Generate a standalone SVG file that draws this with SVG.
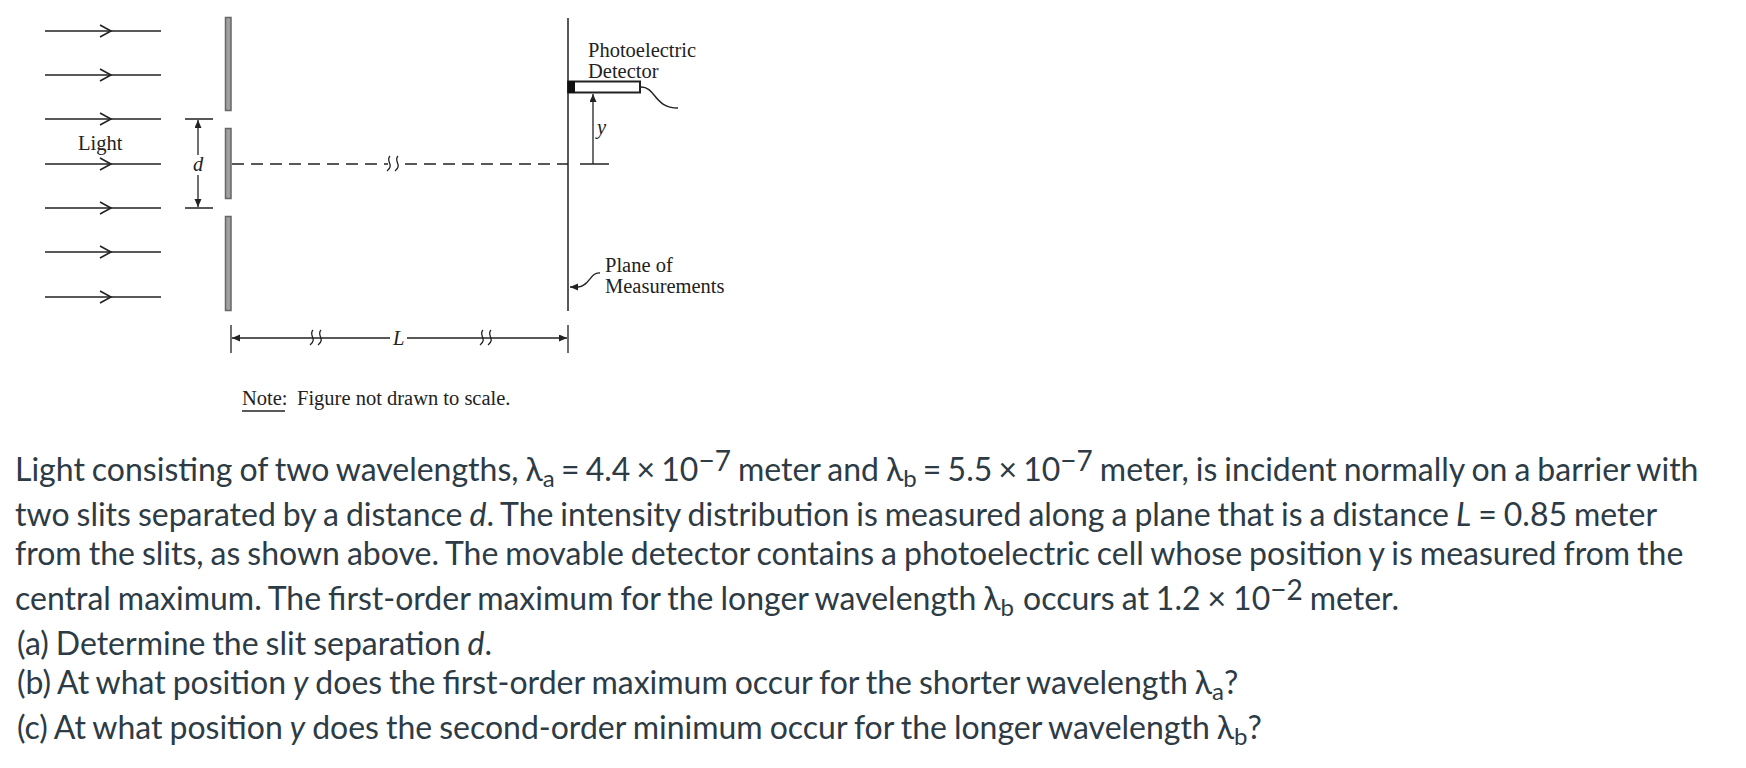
<svg xmlns="http://www.w3.org/2000/svg" width="1746" height="768" viewBox="0 0 1746 768">
<style>
.ln{stroke:#222;stroke-width:1.5;fill:none}
.th{stroke:#222;stroke-width:1.3;fill:none}
.ah{stroke:#222;stroke-width:1.6;fill:none}
.bar{fill:#a0a0a0;stroke:#666;stroke-width:1.5}
.fig{font-family:"Liberation Serif",serif;font-size:20.500px;fill:#222}
.it{font-style:italic}
.q{font-family:Lato,sans-serif;font-size:32px;fill:#2d3b45;word-spacing:-1.200px}
.m{word-spacing:-2px}
.s{font-size:24px}
.u{font-size:28px}
</style>
<defs>
<marker id="tip" markerWidth="9" markerHeight="8" refX="8" refY="3.500" orient="auto-start-reverse" markerUnits="userSpaceOnUse"><path d="M0 0L8 3.500L0 7Z" fill="#222"/></marker>
<g id="ray"><path class="ln" d="M45 0H161"/><path class="ah" d="M100-6L111 0L100 6"/></g>
<path id="sq" class="th" d="M-3 -8C-8 -3 2 1 -6 7M5 -8C0 -3 10 1 2 7"/>
</defs>
<rect width="1746" height="768" fill="#fff"/>
<g id="light-rays">
<use href="#ray" y="31"/><use href="#ray" y="75"/><use href="#ray" y="119"/><use href="#ray" y="164"/><use href="#ray" y="208"/><use href="#ray" y="252"/><use href="#ray" y="297"/>
<text class="fig" x="78" y="150">Light</text>
</g>
<g id="barrier">
<rect class="bar" x="225.500" y="17.500" width="5.500" height="93"/>
<rect class="bar" x="225.500" y="128.500" width="5.500" height="70"/>
<rect class="bar" x="225.500" y="216.500" width="5.500" height="94"/>
</g>
<g id="d-dimension">
<path class="th" d="M185 119H213M185 208H213"/>
<path class="th" d="M198 155V120" marker-end="url(#tip)"/>
<path class="th" d="M198 175V207" marker-end="url(#tip)"/>
<text class="fig it" x="193" y="171">d</text>
</g>
<g id="connectors">
<path class="ln" d="M232 164H388" stroke-dasharray="12 7"/>
<path class="ln" d="M405 164H568" stroke-dasharray="12 7"/>
<use href="#sq" x="393" y="164"/>
<path class="th" d="M593 164V94" marker-end="url(#tip)"/>
<path class="ln" d="M580 164H609"/>
<path class="th" d="M600 273C590 272 590 286 578 287L570 287" marker-end="url(#tip)"/>
<path class="th" d="M231 325V353M568 325V353"/>
<path class="th" d="M390 338H232" marker-end="url(#tip)"/>
<path class="th" d="M407 338H567" marker-end="url(#tip)"/>
<use href="#sq" x="316" y="338"/>
<use href="#sq" x="486" y="338"/>
<text class="fig it" x="393" y="345">L</text>
</g>
<g id="plane">
<path class="ln" d="M568 18V311"/>
<text class="fig" x="605" y="272">Plane of</text>
<text class="fig" x="605" y="293">Measurements</text>
</g>
<g id="detector">
<rect x="568" y="81.500" width="72" height="11" fill="#fff" stroke="#222" stroke-width="2"/>
<rect x="568" y="81" width="7" height="12" fill="#111"/>
<path class="ln" d="M641 87C656 87 654 108 678 108"/>
<text class="fig" x="588" y="57">Photoelectric</text>
<text class="fig" x="588" y="78">Detector</text>
<text class="fig it" x="597" y="134">y</text>
</g>
<g id="note">
<text class="fig" x="242" y="405">Note:</text>
<path class="th" d="M242 411H285"/>
<text class="fig" x="297" y="405">Figure not drawn to scale.</text>
</g>
<g id="question">
<text class="q" x="15" y="481">Light consisting of two wavelengths, λ<tspan class="s" dy="6">a</tspan><tspan class="m" dy="-6"> = 4.4 × 10</tspan><tspan class="u" dy="-10">−7</tspan><tspan dy="10"> meter and λ</tspan><tspan class="s" dy="6">b</tspan><tspan class="m" dy="-6"> = 5.5 × 10</tspan><tspan class="u" dy="-10">−7</tspan><tspan dy="10"> meter, is incident normally on a barrier with</tspan></text>
<text class="q" x="15" y="526">two slits separated by a distance <tspan font-style="italic">d</tspan>. The intensity distribution is measured along a plane that is a distance <tspan font-style="italic">L</tspan> = 0.85 meter</text>
<text class="q" x="15" y="565">from the slits, as shown above. The movable detector contains a photoelectric cell whose position y is measured from the</text>
<text class="q" x="15" y="610">central maximum. The first-order maximum for the longer wavelength λ<tspan class="s" dy="6">b</tspan><tspan dx="2" dy="-6"> occurs at 1.2 × 10</tspan><tspan class="u" dy="-10">−2</tspan><tspan dy="10"> meter.</tspan></text>
<text class="q" x="17" y="655">(a) Determine the slit separation <tspan font-style="italic">d</tspan>.</text>
<text class="q" x="17" y="694">(b) At what position <tspan font-style="italic">y</tspan> does the first-order maximum occur for the shorter wavelength λ<tspan class="s" dy="6">a</tspan><tspan dy="-6">?</tspan></text>
<text class="q" x="17" y="739">(c) At what position <tspan font-style="italic">y</tspan> does the second-order minimum occur for the longer wavelength λ<tspan class="s" dy="6">b</tspan><tspan dy="-6">?</tspan></text>
</g>
</svg>
